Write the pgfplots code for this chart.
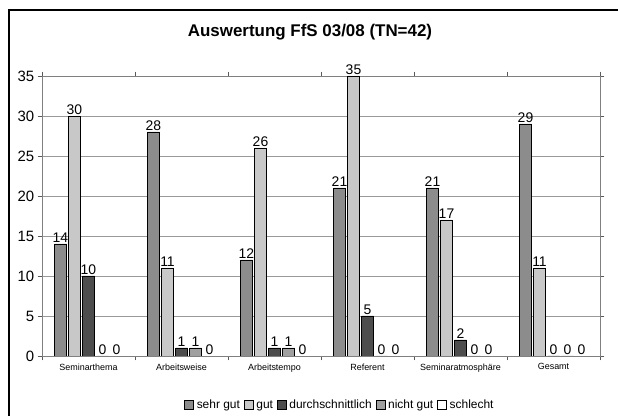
\documentclass[border=0pt]{standalone}
\usepackage{pgfplots}
\pgfplotsset{compat=1.18}
\usepackage{fontspec}
\setmainfont{Liberation Sans}
\definecolor{cSehr}{HTML}{8C8C8C}
\definecolor{cGut}{HTML}{C8C8C8}
\definecolor{cDurch}{HTML}{4D4D4D}
\definecolor{cNicht}{HTML}{A0A0A0}
\definecolor{cSchl}{HTML}{FFFFFF}
\begin{document}
\begin{tikzpicture}
\useasboundingbox (0,0) rectangle (618bp,416bp);
\begin{axis}[
  at={(42bp,60bp)}, anchor=south west,
  scale only axis, width=558bp, height=280bp,
  xmin=-0.5, xmax=5.5, ymin=0, ymax=35,
  ybar=2bp, bar width=12bp,
  /pgf/number format/assume math mode=true,
  axis line style={gray},
  ytick={0,5,...,35},
  yticklabel style={font=\fontsize{15}{15}\selectfont},
  ymajorgrids, grid style={gray!80},
  tick align=outside,
  tick style={gray!70!black},
  xtick={-0.5,0.5,...,5.5}, xticklabels={},
  extra x ticks={0,1,2,3,4,5},
  extra x tick labels={Seminarthema,Arbeitsweise,Arbeitstempo,Referent,Seminaratmosphäre,Gesamt},
  extra x tick style={major tick length=0pt, grid=none, tick label style={font=\fontsize{9}{9}\selectfont, yshift=-4bp}},
  nodes near coords,
  every node near coord/.append style={font=\fontsize{14}{14}\selectfont, inner sep=1pt, text=black},
  legend image code/.code={\draw[#1, draw=black] (0bp,-4.5bp) rectangle (9bp,4.5bp);},
  legend style={at={(0.534,-0.175)}, anchor=center, draw=none, fill=none,
    legend columns=-1, font=\fontsize{12}{12}\selectfont,
    /tikz/every even column/.append style={column sep=2bp},
    /tikz/every odd column/.append style={column sep=1bp}},
]
\addplot[fill=cSehr, draw=black] coordinates {(0,14) (1,28) (2,12) (3,21) (4,21) (5,29)};
\addplot[fill=cGut, draw=black] coordinates {(0,30) (1,11) (2,26) (3,35) (4,17) (5,11)};
\addplot[fill=cDurch, draw=black] coordinates {(0,10) (1,1) (2,1) (3,5) (4,2) (5,0)};
\addplot[fill=cNicht, draw=black] coordinates {(0,0) (1,1) (2,1) (3,0) (4,0) (5,0)};
\addplot[fill=cSchl, draw=black] coordinates {(0,0) (1,0) (2,0) (3,0) (4,0) (5,0)};
\legend{sehr gut,gut,durchschnittlich,nicht gut,schlecht}
\end{axis}
\node[font=\bfseries\fontsize{17}{17}\selectfont] at (310bp,384bp) {Auswertung FfS 03/08 (TN=42)};
\draw[line width=2.5bp] (9bp,-5bp) -- (9bp,406bp) -- (630bp,406bp);
\end{tikzpicture}
\end{document}
